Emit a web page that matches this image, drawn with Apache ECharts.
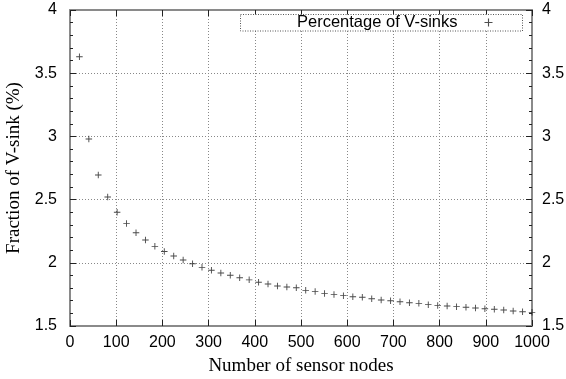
<!DOCTYPE html>
<html>
<head>
<meta charset="utf-8">
<script src="https://cdn.jsdelivr.net/npm/echarts@6/dist/echarts.min.js"></script>
<style>
  html, body { margin: 0; padding: 0; background: #fff; }
  #chart { width: 566px; height: 379px; }
</style>
</head>
<body>
<div id="chart"></div>
<script>
// Network size (number of sensor nodes), evenly spaced sample points
var nodeCounts = [
  20.4, 40.8, 61.2, 81.6, 102.0, 122.4, 142.9, 163.3, 183.7, 204.1,
  224.5, 244.9, 265.3, 285.7, 306.1, 326.5, 346.9, 367.3, 387.8, 408.2,
  428.6, 449.0, 469.4, 489.8, 510.2, 530.6, 551.0, 571.4, 591.8, 612.2,
  632.7, 653.1, 673.5, 693.9, 714.3, 734.7, 755.1, 775.5, 795.9, 816.3,
  836.7, 857.1, 877.6, 898.0, 918.4, 938.8, 959.2, 979.6, 1000.0
];
// Fraction of V-sinks (%) at each network size
var vsinkPercent = [
  3.63, 2.98, 2.695, 2.52, 2.40, 2.31, 2.238, 2.18, 2.13, 2.09,
  2.054, 2.022, 1.993, 1.964, 1.941, 1.919, 1.901, 1.882, 1.865, 1.846,
  1.832, 1.816, 1.809, 1.803, 1.782, 1.772, 1.758, 1.750, 1.740, 1.732,
  1.727, 1.716, 1.706, 1.700, 1.692, 1.684, 1.679, 1.669, 1.663, 1.658,
  1.653, 1.648, 1.642, 1.637, 1.632, 1.627, 1.619, 1.613, 1.608
];
var xTicks = { min: 0, max: 1000, step: 100 };
var yTicks = { min: 1.5, max: 4, step: 0.5 };
var seriesName = 'Percentage of V-sinks';
var xTitle = 'Number of sensor nodes';
var yTitle = 'Fraction of V-sink (%)';

var plusPath = 'path://M4.3,0H5.7V4.3H10V5.7H5.7V10H4.3V5.7H0V4.3H4.3Z';
var borderColor = '#8a8a8a';
var tickStyle = { color: '#222', width: 1 };
var gridLine = { show: true, lineStyle: { color: '#888', width: 1, type: [1, 2] } };
var sansFont = '"Liberation Sans", Arial, sans-serif';
var serifFont = '"Liberation Serif", "Times New Roman", serif';

var chart = echarts.init(document.getElementById('chart'), null, { renderer: 'canvas' });

function fmtX(v) { return String(Math.round(v)); }
function fmtY(v) { return (Math.round(v * 10) / 10).toString(); }

var option = {
  backgroundColor: '#ffffff',
  animation: false,
  grid: { left: 70, right: 34, top: 10, bottom: 53, containLabel: false, outerBoundsMode: 'none' },
  legend: {
    show: true,
    data: [{ name: seriesName, icon: plusPath }],
    left: 297,
    top: 14,
    align: 'right',
    itemWidth: 8,
    itemHeight: 8,
    padding: 0,
    selectedMode: false,
    z: 20,
    formatter: function (n) { return '{t|' + n + '}'; },
    textStyle: {
      color: '#000',
      rich: { t: { fontFamily: sansFont, fontSize: 16.5, color: '#000', padding: [0, 22, 0, 0] } }
    },
    itemStyle: { color: '#222' }
  },
  graphic: [{
    type: 'rect',
    shape: { x: 240.5, y: 14.5, width: 282, height: 16.5 },
    style: { fill: '#fff', stroke: '#555', lineWidth: 1, lineDash: [1, 1.5] },
    z: 10
  }],
  xAxis: [{
    type: 'value',
    position: 'bottom',
    min: xTicks.min, max: xTicks.max, interval: xTicks.step,
    name: xTitle,
    nameLocation: 'middle',
    nameGap: 31,
    nameTextStyle: { fontFamily: serifFont, fontSize: 19, color: '#000' },
    axisLine: { show: true, onZero: false, lineStyle: { color: borderColor, width: 2 } },
    axisTick: { show: true, inside: true, length: 6, lineStyle: tickStyle },
    axisLabel: { fontFamily: sansFont, fontSize: 16, color: '#000', margin: 9, formatter: fmtX },
    splitLine: gridLine
  }, {
    type: 'value',
    position: 'top',
    min: xTicks.min, max: xTicks.max, interval: xTicks.step,
    axisLine: { show: true, onZero: false, lineStyle: { color: borderColor, width: 2 } },
    axisTick: { show: true, inside: true, length: 6, lineStyle: tickStyle },
    axisLabel: { show: false },
    splitLine: { show: false }
  }],
  yAxis: [{
    type: 'value',
    position: 'left',
    min: yTicks.min, max: yTicks.max, interval: yTicks.step,
    name: yTitle,
    nameLocation: 'middle',
    nameGap: 40,
    nameRotate: 90,
    nameTextStyle: { fontFamily: serifFont, fontSize: 19, color: '#000' },
    axisLine: { show: true, onZero: false, lineStyle: { color: borderColor, width: 2 } },
    axisTick: { show: true, inside: true, length: 6, lineStyle: tickStyle },
    minorTick: { show: true, splitNumber: 5, length: 3, lineStyle: tickStyle },
    axisLabel: { fontFamily: sansFont, fontSize: 16, color: '#000', margin: 13, formatter: fmtY },
    splitLine: gridLine
  }, {
    type: 'value',
    position: 'right',
    min: yTicks.min, max: yTicks.max, interval: yTicks.step,
    axisLine: { show: true, onZero: false, lineStyle: { color: borderColor, width: 2 } },
    axisTick: { show: true, inside: true, length: 6, lineStyle: tickStyle },
    minorTick: { show: true, splitNumber: 5, length: 3, lineStyle: tickStyle },
    axisLabel: { fontFamily: sansFont, fontSize: 16, color: '#000', margin: 10, formatter: fmtY },
    splitLine: { show: false }
  }],
  series: [{
    name: seriesName,
    type: 'scatter',
    xAxisIndex: 0,
    yAxisIndex: 0,
    symbol: plusPath,
    symbolSize: 6.5,
    itemStyle: { color: '#1a1a1a' },
    z: 5,
    data: nodeCounts.map(function (x, i) { return [x, vsinkPercent[i]]; })
  }]
};

chart.setOption(option);
</script>
</body>
</html>
